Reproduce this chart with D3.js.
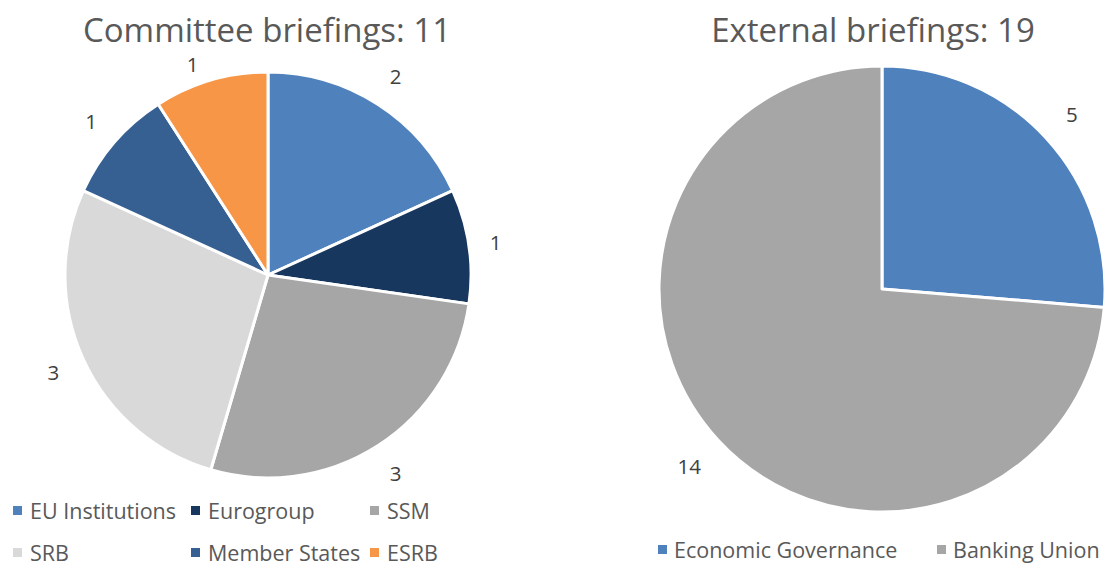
<!DOCTYPE html>
<html>
<head>
<meta charset="utf-8">
<script src="https://cdn.jsdelivr.net/npm/d3@7"></script>
<style>
  body{margin:0;background:#fff;}
  svg text{font-family:"Open Sans","Noto Sans",sans-serif;}
</style>
</head>
<body>
<svg id="chart" width="1105" height="566"></svg>
<script>
/* ----- data ------------------------------------------------- */
const committeeCats   = ['EU Institutions','Eurogroup','SSM','SRB','Member States','ESRB'];
const committeeVals   = [2,1,3,3,1,1];
const committeeCols   = ['#4f81bd','#17375e','#a6a6a6','#d9d9d9','#376092','#f79646'];
const committeeTitle  = 'Committee briefings: 11';

const externalCats    = ['Economic Governance','Banking Union'];
const externalVals    = [5,14];
const externalCols    = ['#4f81bd','#a6a6a6'];
const externalTitle   = 'External briefings: 19';

/* ----- setup ------------------------------------------------ */
const svg = d3.select('#chart');

function drawPie(o){
  const g = svg.append('g').attr('transform',`translate(${o.cx},${o.cy})`);
  const data = o.cats.map((c,i)=>({cat:c,val:o.vals[i],col:o.cols[i]}));
  const pie = d3.pie().sort(null).value(d=>d.val);
  const arc = d3.arc().innerRadius(0).outerRadius(o.r);
  const arcs = pie(data);

  g.selectAll('path').data(arcs).join('path')
    .attr('d',arc)
    .attr('fill',d=>d.data.col)
    .attr('stroke','#fff').attr('stroke-width',3).attr('stroke-linejoin','round');

  // outside-end labels; radius + nudge per slice (Excel shifts crowded ones)
  g.selectAll('text.lbl').data(arcs).join('text')
    .attr('class','lbl')
    .attr('transform',(d,i)=>{
      const lr = o.lr[i], [c0,c1] = d3.arc().innerRadius(lr).outerRadius(lr).centroid(d);
      const nd = (o.nudge && o.nudge[i]) || [0,0];
      return `translate(${c0+nd[0]},${c1+nd[1]})`;
    })
    .attr('text-anchor','middle').attr('dy','0.36em')
    .style('fill','#404040').style('font-size','20.5px')
    .text(d=>d.data.val);

  svg.append('text')
    .attr('x',o.tx).attr('y',42).attr('text-anchor','middle')
    .style('fill','#595959').style('font-size','33px')
    .text(o.title);

  const lg = svg.selectAll(null).data(data.map((d,i)=>({...d,pos:o.leg[i]}))).enter()
    .append('g').attr('transform',d=>`translate(${d.pos[0]},${d.pos[1]})`);
  lg.append('rect').attr('x',0).attr('y',-13).attr('width',9).attr('height',9)
    .attr('fill',d=>d.col);
  lg.append('text').attr('x',o.legGap).attr('y',0)
    .style('fill','#595959').style('font-size','21.5px')
    .text(d=>d.cat);
}

drawPie({
  cx:268, cy:275, r:203, lr:[236,230,236,236,234,225], tx:267,
  nudge:[[0,0],[0,0],[0,0],[0,0],[0,0],[-12,5]],
  cats:committeeCats, vals:committeeVals, cols:committeeCols, title:committeeTitle,
  legGap:17,
  leg:[[13,519],[191,519],[370,519],[13,561],[191,561],[370,561]]
});

drawPie({
  cx:882, cy:289, r:223, lr:[258,262], tx:873,
  cats:externalCats, vals:externalVals, cols:externalCols, title:externalTitle,
  legGap:16,
  leg:[[658,558],[937,558]]
});
</script>
</body>
</html>
